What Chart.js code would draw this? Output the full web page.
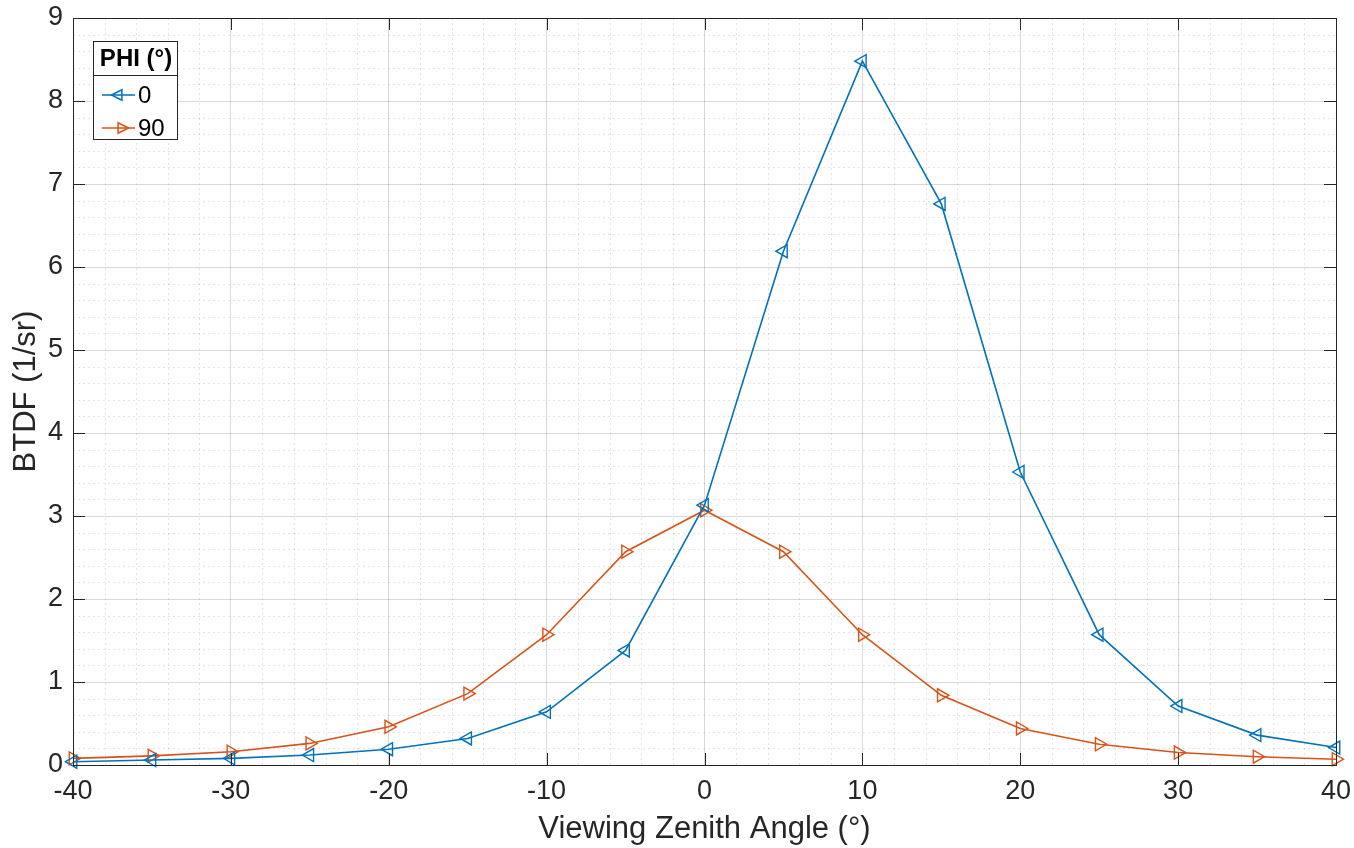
<!DOCTYPE html>
<html>
<head>
<meta charset="utf-8">
<script src="https://cdn.jsdelivr.net/npm/chart.js@4.4.1/dist/chart.umd.min.js"></script>
<style>
html,body{margin:0;padding:0;background:#fff;}
#wrap{width:1354px;height:848px;position:relative;}
</style>
</head>
<body>
<div id="wrap"><canvas id="c" width="1354" height="848"></canvas></div>
<script>
const angles = [-40,-35,-30,-25,-20,-15,-10,-5,0,5,10,15,20,25,30,35,40];
const phi0 = [0.04,0.06,0.08,0.12,0.19,0.32,0.64,1.38,3.13,6.19,8.48,6.76,3.53,1.57,0.71,0.36,0.21];
const phi90 = [0.08,0.11,0.16,0.26,0.46,0.86,1.57,2.57,3.07,2.57,1.57,0.84,0.44,0.25,0.15,0.10,0.07];
const seriesLabels = ['0','90'];
const legendTitle = 'PHI (°)';
const xTitle = 'Viewing Zenith Angle (°)';
const yTitle = 'BTDF (1/sr)';

const BLUE = '#0072BD', ORANGE = '#D95319', AX = '#262626';
const FONT = "'Liberation Sans', Arial, Helvetica, sans-serif";

const matlabPlugin = {
  id: 'matlab',
  beforeDatasetsDraw(chart) {
    const {ctx, chartArea: a, scales: {x, y}} = chart;
    ctx.save();
    ctx.strokeStyle = 'rgba(0,0,0,0.11)';
    ctx.lineWidth = 1;
    ctx.setLineDash([2, 3]);
    for (let v = -40; v <= 40; v += 2) {
      if (v % 10 === 0) continue;
      const px = Math.round(x.getPixelForValue(v)) + 0.5;
      ctx.beginPath(); ctx.moveTo(px, a.top); ctx.lineTo(px, a.bottom); ctx.stroke();
    }
    for (let i = 0; i <= 45; i++) {
      if (i % 5 === 0) continue;
      const py = Math.round(y.getPixelForValue(i * 0.2)) + 0.5;
      ctx.beginPath(); ctx.moveTo(a.left, py); ctx.lineTo(a.right, py); ctx.stroke();
    }
    ctx.restore();
  },
  afterDraw(chart) {
    const {ctx, chartArea: a, scales: {x, y}} = chart;
    ctx.save();
    ctx.strokeStyle = AX;
    ctx.lineWidth = 1;
    ctx.setLineDash([]);
    ctx.strokeRect(Math.round(a.left) + 0.5, Math.round(a.top) + 0.5, Math.round(a.right - a.left), Math.round(a.bottom - a.top));
    const tl = 12;
    for (let v = -40; v <= 40; v += 10) {
      const px = Math.round(x.getPixelForValue(v)) + 0.5;
      ctx.beginPath(); ctx.moveTo(px, a.bottom); ctx.lineTo(px, a.bottom - tl); ctx.stroke();
      ctx.beginPath(); ctx.moveTo(px, a.top); ctx.lineTo(px, a.top + tl); ctx.stroke();
    }
    for (let v = 0; v <= 9; v++) {
      const py = Math.round(y.getPixelForValue(v)) + 0.5;
      ctx.beginPath(); ctx.moveTo(a.left, py); ctx.lineTo(a.left + tl, py); ctx.stroke();
      ctx.beginPath(); ctx.moveTo(a.right, py); ctx.lineTo(a.right - tl, py); ctx.stroke();
    }
    // legend
    const lx = 93, ly = 41, lw = 84, lh = 98, sepY = 75;
    ctx.fillStyle = '#fff';
    ctx.fillRect(lx, ly, lw, lh);
    ctx.strokeStyle = AX;
    ctx.strokeRect(lx + 0.5, ly + 0.5, lw, lh);
    ctx.beginPath(); ctx.moveTo(lx, sepY + 0.5); ctx.lineTo(lx + lw, sepY + 0.5); ctx.stroke();
    ctx.fillStyle = '#000';
    ctx.font = 'bold 24px ' + FONT;
    ctx.textAlign = 'center'; ctx.textBaseline = 'middle';
    ctx.fillText(legendTitle, lx + lw / 2 + 1, ly + 18);
    chart.data.datasets.forEach((ds, i) => {
      const cy = 95 + i * 33;
      ctx.strokeStyle = ds.borderColor; ctx.lineWidth = 1.5;
      ctx.beginPath(); ctx.moveTo(102, cy); ctx.lineTo(135, cy); ctx.stroke();
      const r = 6.5;
      ctx.beginPath();
      if (ds.pointRotation === -90) {
        ctx.moveTo(118 - r, cy); ctx.lineTo(118 + r * 0.6, cy - r * 0.8); ctx.lineTo(118 + r * 0.6, cy + r * 0.8);
      } else {
        ctx.moveTo(122 + r, cy); ctx.lineTo(122 - r * 0.6, cy - r * 0.8); ctx.lineTo(122 - r * 0.6, cy + r * 0.8);
      }
      ctx.closePath(); ctx.stroke();
      ctx.fillStyle = '#000';
      ctx.font = '24px ' + FONT;
      ctx.textAlign = 'left';
      ctx.fillText(ds.label, 138, cy + 1);
    });
    ctx.restore();
  }
};

const mk = (label, data, color, rot) => ({
  label,
  data: angles.map((a, i) => ({x: a, y: data[i]})),
  borderColor: color,
  backgroundColor: 'rgba(0,0,0,0)',
  borderWidth: 1.6,
  pointStyle: 'triangle',
  pointRotation: rot,
  pointRadius: 7.5,
  pointBorderWidth: 1.4,
  pointBorderColor: color,
  pointBackgroundColor: 'rgba(0,0,0,0)',
  tension: 0,
  clip: false
});

new Chart(document.getElementById('c'), {
  type: 'line',
  data: {
    datasets: [
      mk(seriesLabels[0], phi0, BLUE, -90),
      mk(seriesLabels[1], phi90, ORANGE, 90)
    ]
  },
  options: {
    responsive: false,
    animation: false,
    layout: {padding: {top: 18, right: 18, left: 0, bottom: 0}},
    plugins: {legend: {display: false}, tooltip: {enabled: false}, title: {display: false}},
    scales: {
      x: {
        type: 'linear', min: -40, max: 40,
        ticks: {stepSize: 10, color: AX, font: {family: FONT, size: 27}, padding: 10, maxRotation: 0},
        grid: {color: 'rgba(0,0,0,0.15)', drawTicks: false},
        border: {display: false},
        title: {display: true, text: xTitle, color: AX, font: {family: FONT, size: 31}, padding: {top: 0, bottom: 0}},
        afterFit(s) { s.height = 83; s.paddingLeft = 0; s.paddingRight = 0; }
      },
      y: {
        type: 'linear', min: 0, max: 9,
        ticks: {stepSize: 1, color: AX, font: {family: FONT, size: 27}, padding: 10},
        grid: {color: 'rgba(0,0,0,0.15)', drawTicks: false},
        border: {display: false},
        title: {display: true, text: yTitle, color: AX, font: {family: FONT, size: 31}, padding: {top: 8, bottom: 0}},
        afterFit(s) { s.width = 73; s.paddingTop = 0; s.paddingBottom = 0; }
      }
    }
  },
  plugins: [matlabPlugin]
});
</script>
</body>
</html>
